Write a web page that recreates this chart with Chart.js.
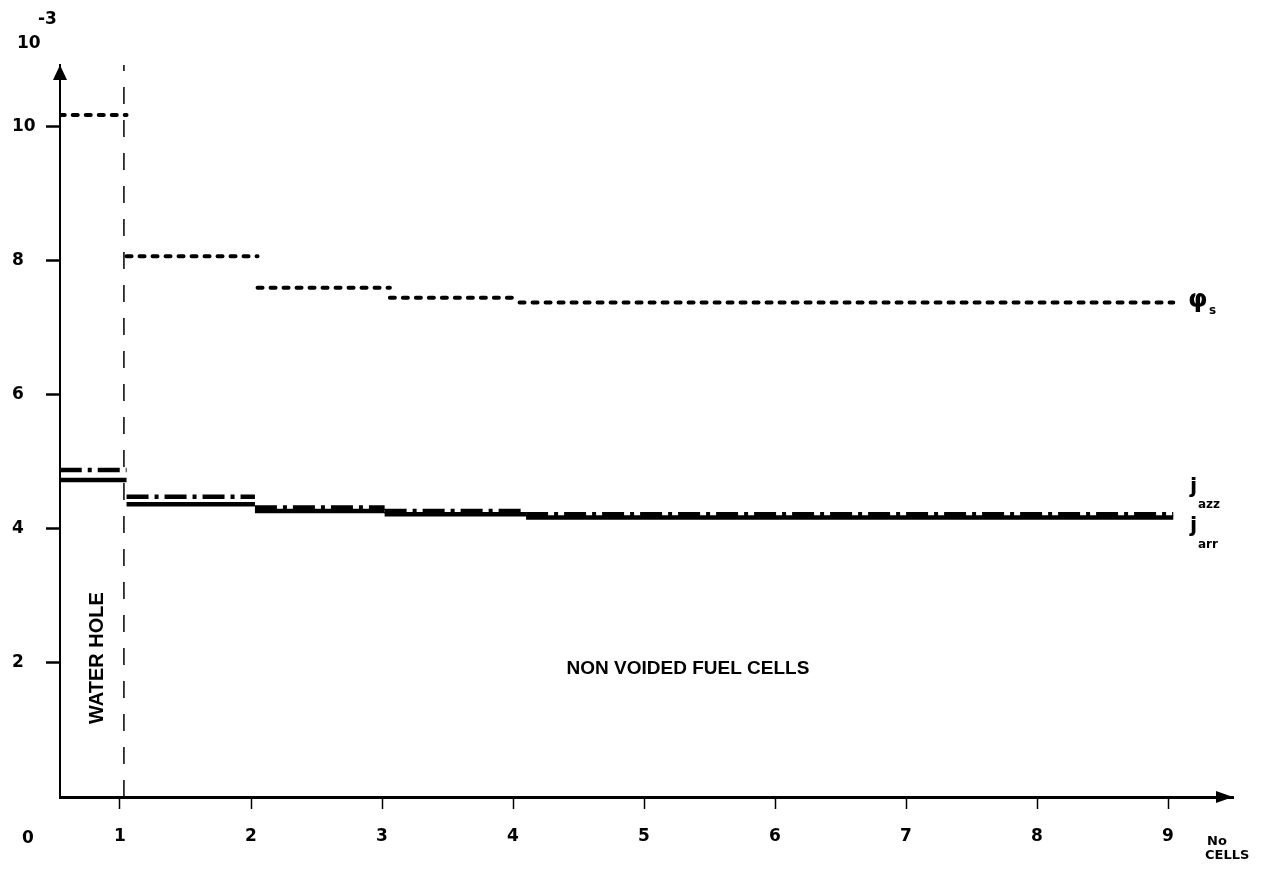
<!DOCTYPE html>
<html>
<head>
<meta charset="utf-8">
<script src="https://cdn.jsdelivr.net/npm/chart.js@4.4.1/dist/chart.umd.min.js"></script>
<style>
  html, body { margin: 0; padding: 0; background: #fff; }
  #c { display: block; }
</style>
</head>
<body>
<canvas id="c" width="1274" height="871"></canvas>
<script>
// ---- data (units of 10^-3, x in cell numbers) ----
const xTicks = [1, 2, 3, 4, 5, 6, 7, 8, 9];
const yTicks = [2, 4, 6, 8, 10];
const phiEdges = [0.54, 1.05, 2.05, 3.06, 4.05, 9.04];
const phiValues = [10.18, 8.07, 7.60, 7.45, 7.38];
const jEdges = [0.54, 1.05, 2.03, 3.02, 4.10, 9.04];
const jazzValues = [4.88, 4.48, 4.32, 4.27, 4.22];
const jarrValues = [4.73, 4.37, 4.27, 4.22, 4.17];
const waterHoleBoundary = 1.03;

function steps(edges, values) {
  const pts = [];
  for (let i = 0; i < values.length; i++) {
    pts.push({ x: edges[i], y: values[i] });
    pts.push({ x: edges[i + 1], y: values[i] });
    pts.push({ x: edges[i + 1], y: null });
  }
  return pts;
}

const X_MIN = 0.542, X_MAX = 9.496, Y_MAX = 10.925;
const FONT = '"DejaVu Sans", sans-serif';

const annotations = {
  id: 'annotations',
  afterDraw(chart) {
    const ctx = chart.ctx;
    const ca = chart.chartArea;
    ctx.save();
    ctx.fillStyle = '#000';
    ctx.strokeStyle = '#000';
    // y-axis arrowhead
    ctx.beginPath();
    ctx.moveTo(ca.left, ca.top);
    ctx.lineTo(ca.left - 7, ca.top + 15);
    ctx.lineTo(ca.left + 7, ca.top + 15);
    ctx.closePath();
    ctx.fill();
    // x-axis arrowhead
    const yb = ca.bottom;
    ctx.beginPath();
    ctx.moveTo(ca.right, yb);
    ctx.lineTo(ca.right - 17, yb - 6);
    ctx.lineTo(ca.right - 17, yb + 6);
    ctx.closePath();
    ctx.fill();

    ctx.textBaseline = 'middle';
    ctx.textAlign = 'left';
    // 10^-3 unit
    ctx.font = 'bold 17px ' + FONT;
    ctx.fillText('10', 17, 44);
    ctx.fillText('-3', 38, 20);
    // origin 0
    ctx.fillText('0', 22, 839);
    // No CELLS
    ctx.font = 'bold 13px ' + FONT;
    ctx.fillText('No', 1207, 842);
    ctx.fillText('CELLS', 1205, 856);

    // series labels
    ctx.font = 'bold 25px ' + FONT;
    ctx.fillText('\u03C6', 1188, 300);
    ctx.font = 'bold 12px ' + FONT;
    ctx.fillText('s', 1209, 311);
    ctx.font = 'bold 21px ' + FONT;
    ctx.fillText('j', 1190, 488);
    ctx.fillText('j', 1190, 527);
    ctx.font = 'bold 12px ' + FONT;
    ctx.fillText('azz', 1198, 505);
    ctx.fillText('arr', 1198, 545);

    // region labels
    ctx.textAlign = 'center';
    ctx.font = 'bold 19px "Liberation Sans", Arial, sans-serif';
    ctx.fillText('NON VOIDED FUEL CELLS', 688, 669);
    ctx.save();
    ctx.translate(97, 658);
    ctx.rotate(-Math.PI / 2);
    ctx.font = 'bold 20px "Liberation Sans", Arial, sans-serif';
    ctx.fillText('WATER HOLE', 0, 0);
    ctx.restore();
    ctx.restore();
  }
};

new Chart(document.getElementById('c'), {
  type: 'line',
  data: {
    datasets: [
      {
        label: 'phi_s',
        data: steps(phiEdges, phiValues),
        borderColor: '#000',
        borderWidth: 4,
        borderDash: [5, 8],
        borderCapStyle: 'round',
        pointRadius: 0,
        spanGaps: false,
        tension: 0
      },
      {
        label: 'j_azz',
        data: steps(jEdges, jazzValues),
        borderColor: '#000',
        borderWidth: 4.5,
        borderDash: [22, 6, 4, 6],
        pointRadius: 0,
        spanGaps: false,
        tension: 0
      },
      {
        label: 'j_arr',
        data: steps(jEdges, jarrValues),
        borderColor: '#000',
        borderWidth: 4.5,
        pointRadius: 0,
        spanGaps: false,
        tension: 0
      },
      {
        label: 'boundary',
        data: [{ x: waterHoleBoundary, y: 0 }, { x: waterHoleBoundary, y: Y_MAX }],
        borderColor: '#000',
        borderWidth: 1.5,
        borderDash: [17, 16],
        pointRadius: 0,
        tension: 0
      }
    ]
  },
  options: {
    responsive: false,
    animation: false,
    devicePixelRatio: 1,
    layout: { padding: { left: 12, top: 65, right: 41, bottom: 0 } },
    plugins: { legend: { display: false }, tooltip: { enabled: false } },
    scales: {
      x: {
        type: 'linear',
        min: X_MIN,
        max: X_MAX,
        afterBuildTicks: (s) => { s.ticks = xTicks.map(v => ({ value: v })); },
        afterFit: (s) => { s.height = 74; },
        border: { display: true, color: '#000', width: 3 },
        grid: { display: true, drawOnChartArea: false, drawTicks: true, tickLength: 12, tickWidth: 1.5, tickColor: '#000' },
        ticks: { color: '#000', font: { family: FONT, size: 17, weight: 'bold' }, padding: 17, maxRotation: 0, autoSkip: false }
      },
      y: {
        type: 'linear',
        min: 0,
        max: Y_MAX,
        afterBuildTicks: (s) => { s.ticks = yTicks.map(v => ({ value: v })); },
        afterFit: (s) => { s.width = 48; },
        border: { display: true, color: '#000', width: 2 },
        grid: { display: true, drawOnChartArea: false, drawTicks: true, tickLength: 14, tickWidth: 2.5, tickColor: '#000' },
        ticks: { color: '#000', font: { family: FONT, size: 17, weight: 'bold' }, crossAlign: 'far', padding: 4, autoSkip: false }
      }
    }
  },
  plugins: [annotations]
});
</script>
</body>
</html>
